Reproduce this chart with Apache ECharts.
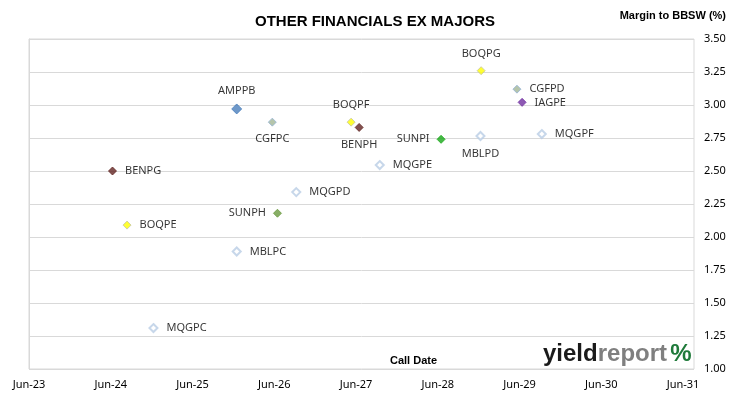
<!DOCTYPE html>
<html>
<head>
<meta charset="utf-8">
<script src="https://cdn.jsdelivr.net/npm/echarts@6/dist/echarts.min.js"></script>
<style>
html, body { margin: 0; padding: 0; background: #fff; }
#main { width: 730px; height: 399px; }
</style>
</head>
<body>
<div id="main"></div>
<script>
// bonds, call dates and margin to BBSW (%)
var bonds = ['AMPPB', 'CGFPC', 'BOQPF', 'BENPH', 'BOQPG', 'CGFPD', 'IAGPE', 'SUNPI', 'MBLPD',
    'MQGPF', 'BENPG', 'MQGPD', 'SUNPH', 'BOQPE', 'MBLPC', 'MQGPC', 'MQGPE'];
var callDates = ['2025-12-15', '2026-05-23', '2027-05-10', '2027-06-15', '2028-12-11', '2029-05-20',
    '2029-06-12', '2028-06-15', '2028-12-08', '2029-09-08', '2024-06-08', '2026-09-07',
    '2026-06-15', '2024-08-12', '2025-12-15', '2024-12-08', '2027-09-15'];
var margins = [2.97, 2.87, 2.87, 2.83, 3.26, 3.12, 3.02, 2.74, 2.765,
    2.78, 2.50, 2.34, 2.18, 2.09, 1.89, 1.31, 2.545];
var yearLabels = ['Jun-23', 'Jun-24', 'Jun-25', 'Jun-26', 'Jun-27', 'Jun-28', 'Jun-29', 'Jun-30', 'Jun-31'];

var start = new Date(2023, 5, 1).getTime();
function yearsFrom(d) {
    return (new Date(d).getTime() - start) / (365.25 * 86400000);
}

// issuer colours
var look = {
    AMP: { color: '#4a7ebb', border: '#4a7ebb', size: 10 },
    CGF: { color: '#a3b796', border: '#95b3d7', size: 8 },
    BOQ: { color: '#ffff00', border: '#c4c4a0', size: 8 },
    BEN: { color: '#632523', border: '#632523', size: 8 },
    IAG: { color: '#7030a0', border: '#7030a0', size: 8 },
    SUNPI: { color: '#18a818', border: '#18a818', size: 8 },
    SUNPH: { color: '#6a9a40', border: '#6a9a40', size: 8 },
    MBL: { color: '#ffffff', border: '#b9cde5', size: 8 },
    MQG: { color: '#ffffff', border: '#b9cde5', size: 8 }
};
var sides = {
    AMPPB: 'top', CGFPC: 'bottom', BOQPF: 'top', BENPH: 'bottom', BOQPG: 'top', MBLPD: 'bottom',
    SUNPI: 'left', SUNPH: 'left'
};

var data = bonds.map(function (b, i) {
    var st = look[b] || look[b.slice(0, 3)];
    return {
        name: b,
        value: [yearsFrom(callDates[i]), margins[i]],
        symbolSize: st.size,
        itemStyle: { color: st.color, borderColor: st.border, borderWidth: st.color === '#ffffff' ? 2 : 1 },
        label: { position: sides[b] || 'right', distance: sides[b] ? 7 : 8 }
    };
});

var myChart = echarts.init(document.getElementById('main'));
var option = {
    animation: false,
    title: {
        text: 'OTHER FINANCIALS EX MAJORS',
        left: 370, top: 9, textAlign: 'center',
        textStyle: { fontFamily: 'Liberation Sans', fontSize: 15, fontWeight: 'bold', color: '#000' }
    },
    grid: { left: 29, right: 36, top: 39, bottom: 30, containLabel: false, outerBoundsMode: 'none',
        show: true, borderColor: '#d9d9d9', borderWidth: 1 },
    xAxis: {
        type: 'value', min: 0, max: 8.134, interval: 1,
        axisLine: { show: false },
        axisTick: { show: false },
        splitLine: { show: false },
        axisLabel: {
            margin: 10, color: '#000', fontFamily: 'Noto Sans', fontSize: 11,
            showMaxLabel: false,
            formatter: function (v) {
                return Math.abs(v - Math.round(v)) < 1e-6 ? yearLabels[Math.round(v)] : '';
            }
        }
    },
    yAxis: {
        type: 'value', position: 'right', min: 1, max: 3.5, interval: 0.25,
        axisLine: { show: true, lineStyle: { color: '#d9d9d9' } },
        axisTick: { show: true, inside: false, length: 5, lineStyle: { color: '#d9d9d9' } },
        splitLine: { show: true, lineStyle: { color: '#d9d9d9' } },
        axisLabel: {
            margin: 10, color: '#000', fontFamily: 'Noto Sans', fontSize: 11,
            formatter: function (v) { return v.toFixed(2); }
        }
    },
    graphic: [
        { type: 'text', right: 4, top: 10,
            style: { text: 'Margin to BBSW (%)', fill: '#000', font: 'bold 11px Liberation Sans' } },
        { type: 'text', left: 390, top: 355,
            style: { text: 'Call Date', fill: '#000', font: 'bold 11px Liberation Sans' } },
        { type: 'text', left: 543, top: 342,
            style: {
                text: '{a|yield}{b|report} {c|%}',
                rich: {
                    a: { fill: '#1a1a1a', font: 'bold 24px Liberation Sans' },
                    b: { fill: '#7f7f7f', font: 'bold 24px Liberation Sans' },
                    c: { fill: '#1f7a3a', font: 'bold 24px Liberation Sans' }
                }
            } }
    ],
    series: [{
        type: 'scatter',
        symbol: 'diamond',
        data: data,
        label: {
            show: true,
            formatter: '{b}',
            color: '#000',
            fontFamily: 'Noto Sans',
            fontSize: 11
        }
    }]
};
myChart.setOption(option);
</script>
</body>
</html>
